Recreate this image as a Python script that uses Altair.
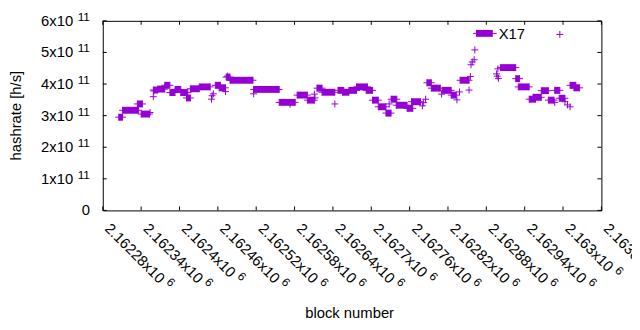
import altair as alt
import pandas as pd

# ---- data: runs of consecutive blocks with the same estimated hashrate ----
run_start = [2162305, 2162311, 2162334, 2162340, 2162354, 2162359, 2162360, 2162359, 2162366, 2162377,
             2162385, 2162393, 2162402, 2162411, 2162417, 2162431, 2162450, 2162451, 2162453, 2162456,
             2162462, 2162472, 2162475, 2162473, 2162479, 2162516, 2162516, 2162556, 2162573, 2162584,
             2162600, 2162611, 2162612, 2162615, 2162623, 2162643, 2162648, 2162655, 2162665, 2162677,
             2162692, 2162702, 2162711, 2162723, 2162728, 2162731, 2162739, 2162756, 2162763, 2162785,
             2162780, 2162782, 2162787, 2162794, 2162810, 2162811, 2162825, 2162834, 2162838, 2162839,
             2162853, 2162855, 2162856, 2162858, 2162861, 2162862, 2162896, 2162897, 2162899, 2162898,
             2162902, 2162926, 2162930, 2162947, 2162953, 2162966, 2162977, 2162987, 2162987, 2162994,
             2163003, 2163007, 2163011, 2163011, 2163017, 2162995]
run_end = [2162311, 2162336, 2162342, 2162353, 2162354, 2162359, 2162360, 2162366, 2162377, 2162385,
           2162393, 2162402, 2162413, 2162417, 2162431, 2162448, 2162450, 2162451, 2162453, 2162464,
           2162472, 2162472, 2162475, 2162479, 2162515, 2162516, 2162556, 2162581, 2162573, 2162600,
           2162611, 2162611, 2162612, 2162623, 2162643, 2162643, 2162657, 2162665, 2162677, 2162694,
           2162702, 2162711, 2162723, 2162731, 2162728, 2162740, 2162756, 2162765, 2162777, 2162785,
           2162780, 2162782, 2162794, 2162808, 2162810, 2162825, 2162833, 2162834, 2162838, 2162853,
           2162853, 2162855, 2162856, 2162858, 2162861, 2162862, 2162896, 2162897, 2162899, 2162898,
           2162926, 2162932, 2162947, 2162957, 2162966, 2162977, 2162986, 2162987, 2162995, 2163003,
           2163003, 2163007, 2163011, 2163020, 2163026, 2162995]
run_hashrate = [2.95, 3.17, 3.37, 3.05, 3.10, 3.60, 3.78, 3.81, 3.84, 3.96,
                3.73, 3.83, 3.73, 3.56, 3.85, 3.91, 3.52, 3.63, 3.69, 3.96,
                3.88, 3.76, 4.25, 4.22, 4.12, 3.69, 3.83, 3.42, 3.36, 3.65,
                3.49, 3.68, 3.56, 3.87, 3.74, 3.37, 3.80, 3.74, 3.80, 3.91,
                3.80, 3.49, 3.28, 3.08, 3.37, 3.52, 3.33, 3.23, 3.44, 3.52,
                3.31, 3.41, 4.04, 3.87, 3.68, 3.80, 3.65, 3.50, 3.75, 4.12,
                3.81, 4.24, 4.61, 4.70, 4.77, 5.08, 4.32, 4.25, 4.18, 4.48,
                4.52, 4.17, 3.91, 3.52, 3.58, 3.79, 3.49, 3.42, 3.80, 3.55,
                3.44, 3.34, 3.28, 3.96, 3.88, 5.57]

x_ticks = [2162280, 2162340, 2162400, 2162460, 2162520, 2162580, 2162640,
           2162700, 2162760, 2162820, 2162880, 2162940, 2163000, 2163060]
x_mant = ["2.16228", "2.16234", "2.1624", "2.16246", "2.16252", "2.16258", "2.16264",
          "2.1627", "2.16276", "2.16282", "2.16288", "2.16294", "2.163", "2.16306"]
x_exp = "6"
y_ticks = [0, 1e11, 2e11, 3e11, 4e11, 5e11, 6e11]
y_main = ["0", "1x10", "2x10", "3x10", "4x10", "5x10", "6x10"]
y_exp = ["", "11", "11", "11", "11", "11", "11"]
series_name = "X17"

# ---- styling ----
PURPLE = "#9400D3"
FONT = "Liberation Sans"
FS = 15
FS_SUP = 12
W, H = 505, 192

runs = pd.DataFrame({"s": run_start, "e": run_end, "v": [h * 1e11 for h in run_hashrate]})
ends = pd.concat([runs[["s", "v"]].rename(columns={"s": "b"}),
                  runs[["e", "v"]].rename(columns={"e": "b"})]).drop_duplicates()

xs = alt.Scale(domain=[x_ticks[0], x_ticks[-1]], nice=False, zero=False)
ys = alt.Scale(domain=[y_ticks[0], y_ticks[-1]], nice=False, zero=False)

bars = alt.Chart(runs).mark_rule(color=PURPLE, strokeWidth=7, strokeCap="butt").encode(
    x=alt.X("s:Q", scale=xs, axis=None), x2="e:Q", y=alt.Y("v:Q", scale=ys, axis=None))
plus = alt.Chart(ends).mark_point(shape="M-1,0L1,0M0,-1L0,1", size=49, filled=False,
                                   color=PURPLE, strokeWidth=1, opacity=1).encode(
    x=alt.X("b:Q", scale=xs, axis=None), y=alt.Y("v:Q", scale=ys, axis=None))

xt = pd.DataFrame({"b": x_ticks, "m": [m + "x10" for m in x_mant], "n": [len(m) for m in x_mant]})
yt = pd.DataFrame({"v": y_ticks, "m": y_main, "e": y_exp})

tick_b = alt.Chart(xt).mark_rule(color="black", strokeWidth=1).encode(
    x=alt.X("b:Q", scale=xs, axis=None), y=alt.value(H), y2=alt.value(H - 4))
tick_t = alt.Chart(xt).mark_rule(color="black", strokeWidth=1).encode(
    x=alt.X("b:Q", scale=xs, axis=None), y=alt.value(0), y2=alt.value(4))
tick_l = alt.Chart(yt).mark_rule(color="black", strokeWidth=1).encode(
    y=alt.Y("v:Q", scale=ys, axis=None), x=alt.value(0), x2=alt.value(4))
tick_r = alt.Chart(yt).mark_rule(color="black", strokeWidth=1).encode(
    y=alt.Y("v:Q", scale=ys, axis=None), x=alt.value(W), x2=alt.value(W - 4))

# x tick labels (rotated)
LX_DX, LX_DY, LX_Y = 3.4, -3.4, 207.8
xlab = alt.Chart(xt).mark_text(angle=45, align="left", baseline="middle", font=FONT, fontSize=FS,
                               color="black", dx=LX_DX, dy=LX_DY).encode(
    x=alt.X("b:Q", scale=xs, axis=None), y=alt.value(LX_Y), text="m:N")

def text_w(s, fs):
    w = 0
    for c in s:
        w += {".": 0.278, "x": 0.5}.get(c, 0.556)
    return w * fs

sup_layers = []
for n in sorted(set(xt["n"])):
    w = text_w("2." + "1" * (n - 2) + "x10", FS)
    sup_layers.append(
        alt.Chart(xt).transform_filter(alt.datum.n == n).transform_calculate(t="'" + x_exp + "'")
        .mark_text(angle=45, align="left", baseline="middle", font=FONT, fontSize=FS_SUP,
                   color="black", dx=LX_DX + w + 4, dy=LX_DY - 5)
        .encode(x=alt.X("b:Q", scale=xs, axis=None), y=alt.value(LX_Y), text="t:N"))

ylab_main = alt.Chart(yt).transform_filter(alt.datum.v > 0).mark_text(
    align="right", baseline="alphabetic", font=FONT, fontSize=FS, color="black", dy=5).encode(
    y=alt.Y("v:Q", scale=ys, axis=None), x=alt.value(-30), text="m:N")
ylab_zero = alt.Chart(yt).transform_filter(alt.datum.v == 0).mark_text(
    align="right", baseline="alphabetic", font=FONT, fontSize=FS, color="black", dy=5).encode(
    y=alt.Y("v:Q", scale=ys, axis=None), x=alt.value(-13), text="m:N")
ylab_sup = alt.Chart(yt).transform_filter(alt.datum.v > 0).mark_text(
    align="right", baseline="alphabetic", font=FONT, fontSize=FS_SUP, color="black", dy=0).encode(
    y=alt.Y("v:Q", scale=ys, axis=None), x=alt.value(-13), text="e:N")

one = pd.DataFrame({"t": ["block number"], "h": ["hashrate [h/s]"], "k": [series_name]})
xtitle = alt.Chart(one).mark_text(font=FONT, fontSize=FS, color="black", baseline="middle").encode(
    x=alt.value(250), y=alt.value(296), text="t:N")
ytitle = alt.Chart(one).mark_text(font=FONT, fontSize=FS, color="black", baseline="middle",
                                  angle=270).encode(x=alt.value(-88), y=alt.value(96), text="h:N")
key_text = alt.Chart(one).mark_text(font=FONT, fontSize=FS, color="black", baseline="middle",
                                    align="left").encode(x=alt.value(401), y=alt.value(13), text="k:N")
key_thick = alt.Chart(one).mark_rule(color=PURPLE, strokeWidth=7, strokeCap="butt").encode(
    x=alt.value(378), x2=alt.value(395), y=alt.value(12.7))
key_thin = alt.Chart(one).mark_rule(color=PURPLE, strokeWidth=1).encode(
    x=alt.value(375), x2=alt.value(399), y=alt.value(12.7))

chart = alt.layer(
    bars, plus, tick_b, tick_t, tick_l, tick_r, xlab, *sup_layers,
    ylab_main, ylab_zero, ylab_sup, xtitle, ytitle, key_thick, key_thin, key_text
).properties(
    width=W, height=H,
    autosize=alt.AutoSizeParams(type="none"),
    padding={"left": 96, "top": 11, "right": 31, "bottom": 111},
    background="white",
).configure_view(stroke="black", strokeWidth=1)

chart.save("out.html", embed_options={"renderer": "svg", "actions": False})
